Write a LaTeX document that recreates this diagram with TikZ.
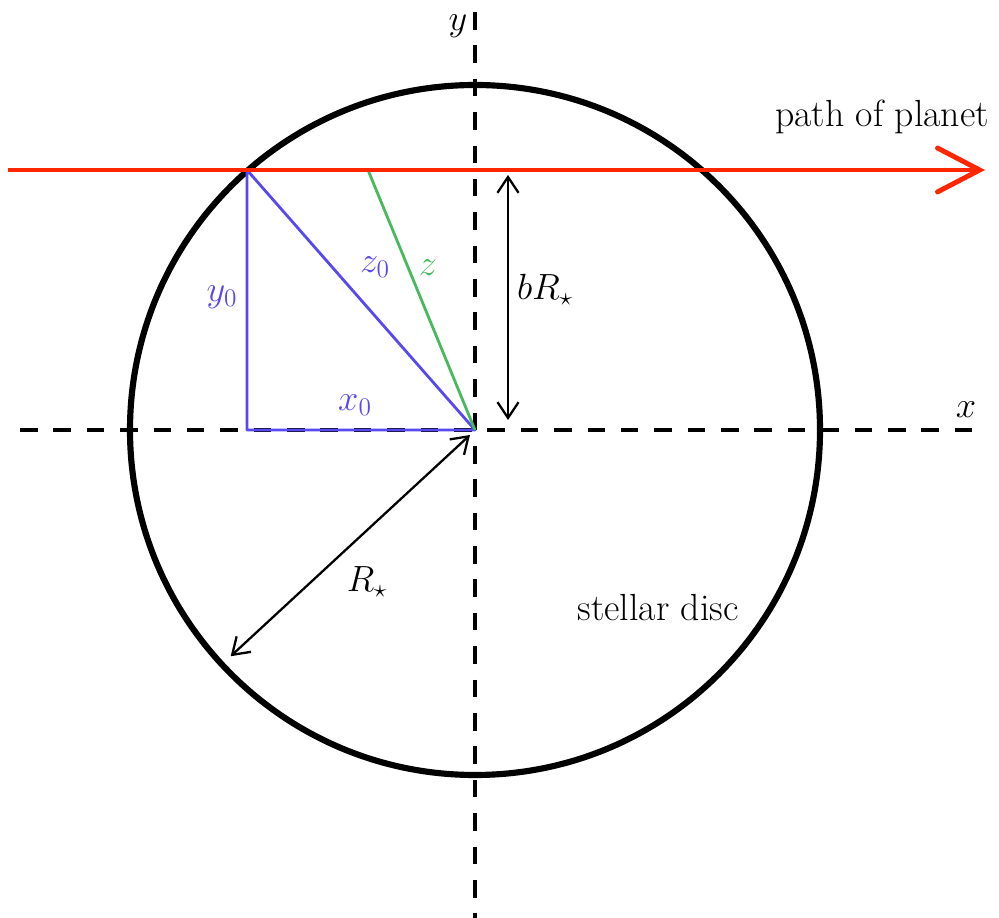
\documentclass[tikz,border=0pt]{standalone}
\usepackage{amsmath,amssymb}
\usepackage{xcolor}
\usepackage{tikz}
\usetikzlibrary{arrows.meta,calc,positioning}

\definecolor{pathred}{RGB}{255,38,0}
\definecolor{triblue}{RGB}{88,72,240}
\definecolor{zgreen}{RGB}{72,185,92}

\begin{document}
\begin{tikzpicture}[x=0.02cm,y=0.02cm,
    axis/.style={line width=2pt, dash pattern=on 10pt off 9pt},
    dim/.style={line width=1.3pt, {Straight Barb[length=9pt,width=12pt]}-{Straight Barb[length=9pt,width=12pt]}},
    lbl/.style={font=\fontsize{20.5}{24}\selectfont, inner sep=1pt},
    txt/.style={font=\fontsize{21.5}{25}\selectfont, inner sep=1pt}]
    \useasboundingbox (-475,-488) rectangle (524,430);
    % centre, planet point and ends of the axes
    \coordinate (O) at (0,0);
    \coordinate (P) at (-228,260);
    \coordinate (Q) at (-107,260);
    \coordinate (F) at (-228,0);
    \coordinate (ytop) at (0,418);
    \coordinate (ybot) at (0,-488);
    \coordinate (xleft) at (-455,0);
    \coordinate (xright) at (510,0);
    \coordinate (pstart) at (-467,260);
    \coordinate (pend) at (510,260);
    \coordinate (btop) at (33,255);
    \coordinate (bbot) at (33,10);
    \coordinate (Rin) at (-5,-5);
    \coordinate (Rout) at (222.8:333);
    % stellar disc and axes
    \draw[line width=3.5pt] (O) circle (345);
    \draw[axis] (ytop) -- (ybot);
    \draw[axis] (xleft) -- (xright);
    % triangle and z
    \draw[triblue, line width=1.6pt, line join=round] (P) -- (F) -- (O) -- cycle;
    \draw[zgreen, line width=1.6pt] (Q) -- (O);
    % path of the planet
    \draw[pathred, line width=2.8pt, -{Straight Barb[length=24pt,width=25pt,line cap=round]}] (pstart) -- (pend);
    % dimensions
    \draw[dim] (btop) -- (bbot);
    \draw[dim] (Rin) -- (Rout);
    % labels
    \node[lbl] (ylab) at (-17,404) {$y$};
    \node[lbl] (xlab) at (491,20) {$x$};
    \node[txt] (pathlab) at (407,313) {path of planet};
    \node[lbl] (blab) at (70,140) {$bR_\star$};
    \node[lbl, triblue] (z0lab) at (-100,163) {$z_0$};
    \node[lbl, zgreen] (zlab) at (-47,162) {$z$};
    \node[lbl, triblue] (y0lab) at (-253,133) {$y_0$};
    \node[lbl, triblue] (x0lab) at (-120,25) {$x_0$};
    \node[lbl] (Rlab) at (-108,-152) {$R_\star$};
    \node[txt] (disclab) at (183,-178) {stellar disc};
\end{tikzpicture}
\end{document}
